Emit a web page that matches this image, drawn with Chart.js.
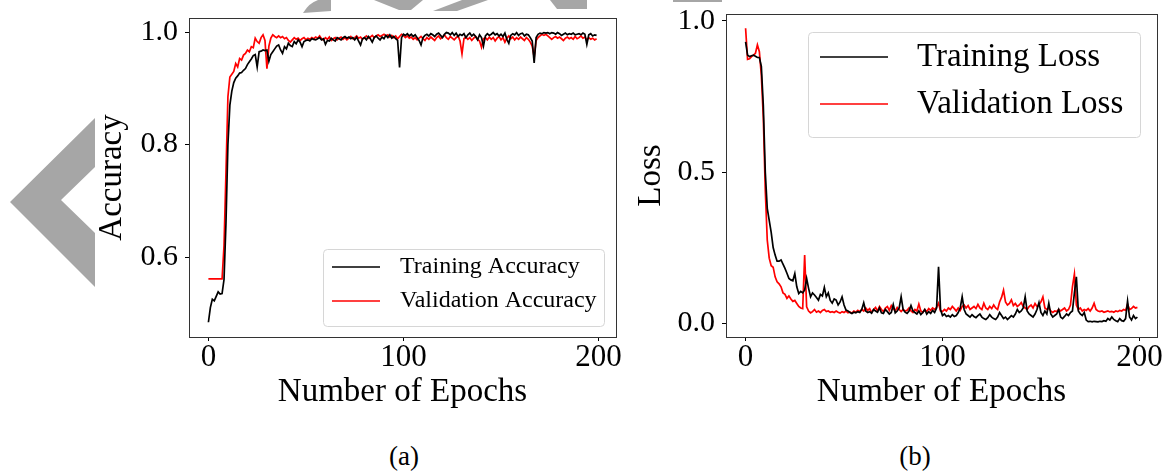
<!DOCTYPE html>
<html>
<head>
<meta charset="utf-8">
<script src="https://cdn.jsdelivr.net/npm/chart.js@4.4.1/dist/chart.umd.min.js"></script>
<style>
  html, body { margin: 0; padding: 0; background: #fff; }
  #page { position: relative; width: 1171px; height: 475px; overflow: hidden; }
  #page canvas, #page svg { position: absolute; top: 0; }
  #accChart { left: 0; }
  #lossChart { left: 620px; }
  .cap { position: absolute; top: 443px; font: 27px/27px "Liberation Serif"; color: #000; transform: translateX(-50%); }
</style>
</head>
<body>
<div id="page">
  <!-- grey watermark pieces from the scanned page -->
  <svg width="1171" height="475" style="left:0">
    <g fill="#a6a6a6">
      <polygon points="95,118 10,202 95,287 95,233 61,200 95,167"/>
      <path d="M303,13 Q309,3 318,0 L331,0 L331,11 Z"/>
      <polygon points="374,0 423,0 411,10 399,10"/>
      <polygon points="433,11 457,11 488,0 462,0"/>
      <polygon points="550,0 587,0 587,9 557,9"/>
      <rect x="673" y="0" width="49" height="2"/>
    </g>
  </svg>
  <canvas id="accChart" width="630" height="420"></canvas>
  <canvas id="lossChart" width="551" height="420"></canvas>
  <div class="cap" style="left:404px">(a)</div>
  <div class="cap" style="left:915px">(b)</div>
</div>
<script>
const epochs = Array.from({ length: 200 }, (_, i) => i);
const xTicks = [0, 100, 200];
const accTicks = [0.6, 0.8, 1.0];
const lossTicks = [0.0, 0.5, 1.0];

const trainAcc = [
  0.484, 0.51, 0.525, 0.522, 0.53, 0.538, 0.534, 0.535, 0.56, 0.66,
  0.80, 0.87, 0.895, 0.91, 0.918, 0.922, 0.927, 0.928, 0.932, 0.935,
  0.942, 0.947, 0.952, 0.958, 0.96, 0.938, 0.965, 0.966, 0.968, 0.967,
  0.968, 0.948, 0.96, 0.965, 0.97, 0.975, 0.977, 0.968, 0.962, 0.974,
  0.97, 0.98, 0.976, 0.974, 0.983, 0.979, 0.986, 0.982, 0.974, 0.983,
  0.985, 0.986, 0.984, 0.988, 0.987, 0.986, 0.988, 0.99, 0.986, 0.988,
  0.978, 0.985, 0.984, 0.989, 0.986, 0.984, 0.99, 0.988, 0.986, 0.99,
  0.992, 0.989, 0.991, 0.988, 0.99, 0.986, 0.991, 0.984, 0.977, 0.988,
  0.99, 0.986, 0.992, 0.988, 0.982, 0.99, 0.993, 0.989, 0.986, 0.991,
  0.988, 0.994, 0.99, 0.995, 0.989, 0.992, 0.988, 0.985, 0.937, 0.99,
  0.996, 0.994, 0.997, 0.993, 0.996, 0.992, 0.995, 0.99, 0.985, 0.977,
  0.99, 0.994, 0.996, 0.993, 0.997, 0.995, 0.992, 0.996, 0.998, 0.994,
  0.99, 0.996, 0.999, 0.998, 0.995, 0.999, 0.994, 0.998, 0.992, 0.996,
  0.994, 0.997, 0.99, 0.995, 0.998, 0.993, 0.996, 0.992, 0.986, 0.995,
  0.99, 0.975, 0.993, 0.997, 0.994, 0.996, 0.999, 0.995, 0.997, 0.993,
  0.996, 0.992, 0.998, 0.987, 0.98, 0.994, 0.997, 0.995, 0.999, 0.994,
  0.997, 0.998, 0.993, 0.996, 0.995, 0.99, 0.984, 0.945, 0.99, 0.996,
  0.998, 0.997, 0.999, 0.998, 0.999, 0.997, 0.999, 0.998, 0.996, 0.999,
  0.997, 0.994, 0.996, 0.998, 0.995, 0.997, 0.996, 0.998, 0.995, 0.996,
  0.997, 0.995, 0.998, 0.996, 0.978, 0.995, 0.997, 0.993, 0.995, 0.994
];

const valAcc = [
  0.561, 0.561, 0.561, 0.561, 0.561, 0.561, 0.561, 0.561, 0.62, 0.75,
  0.885, 0.92, 0.925, 0.93, 0.944, 0.938, 0.953, 0.95, 0.959, 0.962,
  0.968, 0.965, 0.974, 0.972, 0.989, 0.983, 0.98, 0.99, 0.995, 0.985,
  0.935, 0.975, 0.989, 0.995, 0.992, 0.99, 0.993, 0.99, 0.992, 0.988,
  0.99, 0.985, 0.982, 0.986, 0.99, 0.987, 0.989, 0.985, 0.988, 0.99,
  0.986, 0.989, 0.987, 0.99, 0.988, 0.991, 0.989, 0.993, 0.988, 0.986,
  0.99, 0.987, 0.991, 0.985, 0.988, 0.99, 0.986, 0.989, 0.991, 0.987,
  0.99, 0.986, 0.989, 0.992, 0.988, 0.99, 0.993, 0.989, 0.991, 0.987,
  0.99, 0.993, 0.989, 0.991, 0.994, 0.99, 0.993, 0.995, 0.992, 0.994,
  0.996, 0.993, 0.995, 0.991, 0.994, 0.99, 0.993, 0.988, 0.992, 0.996,
  0.994, 0.99, 0.993, 0.989, 0.991, 0.987, 0.99, 0.986, 0.989, 0.992,
  0.988, 0.985, 0.99, 0.987, 0.991, 0.988, 0.985, 0.99, 0.993, 0.988,
  0.991, 0.995, 0.99, 0.987, 0.992, 0.989, 0.986, 0.99, 0.993, 0.984,
  0.961, 0.988, 0.991, 0.987, 0.99, 0.985, 0.989, 0.992, 0.987, 0.984,
  0.973, 0.988, 0.99, 0.986, 0.991, 0.987, 0.99, 0.984, 0.989, 0.992,
  0.986, 0.99, 0.982, 0.989, 0.993, 0.988, 0.991, 0.986, 0.99, 0.987,
  0.991, 0.988, 0.985, 0.99, 0.987, 0.982, 0.975, 0.955, 0.985, 0.99,
  0.993, 0.996, 0.994, 0.996, 0.993, 0.99, 0.987, 0.99, 0.992, 0.989,
  0.991, 0.988, 0.985, 0.989, 0.991, 0.988, 0.99, 0.987, 0.992, 0.988,
  0.99, 0.993, 0.989, 0.991, 0.986, 0.99, 0.987, 0.989, 0.986, 0.988
];

const trainLoss = [
  0.931, 0.887, 0.882, 0.885, 0.887, 0.883, 0.879, 0.879, 0.85, 0.72,
  0.50, 0.38, 0.34, 0.30, 0.25, 0.225, 0.205, 0.205, 0.209, 0.195,
  0.181, 0.165, 0.148, 0.143, 0.14, 0.164, 0.12, 0.098, 0.105, 0.1,
  0.11, 0.148, 0.115, 0.087, 0.1, 0.093, 0.085, 0.076, 0.095, 0.09,
  0.118, 0.087, 0.1, 0.075, 0.066, 0.08, 0.076, 0.06, 0.07, 0.087,
  0.06, 0.043, 0.04, 0.035, 0.032, 0.036, 0.034, 0.038, 0.035, 0.045,
  0.067, 0.04, 0.035, 0.038, 0.033, 0.045, 0.04, 0.036, 0.05, 0.034,
  0.032, 0.045, 0.038, 0.03, 0.035, 0.061, 0.034, 0.04, 0.05, 0.087,
  0.045, 0.036, 0.032, 0.04, 0.058, 0.04, 0.035, 0.03, 0.04, 0.028,
  0.035, 0.045, 0.03, 0.038, 0.032, 0.042, 0.035, 0.05, 0.186, 0.045,
  0.025, 0.03, 0.022, 0.025, 0.02, 0.028, 0.022, 0.025, 0.035, 0.05,
  0.087, 0.045, 0.03, 0.025, 0.02, 0.028, 0.022, 0.018, 0.025, 0.03,
  0.02, 0.015, 0.012, 0.018, 0.028, 0.02, 0.015, 0.012, 0.02, 0.035,
  0.025, 0.015, 0.02, 0.012, 0.018, 0.025, 0.02, 0.03, 0.045, 0.035,
  0.04, 0.05, 0.087, 0.04, 0.03, 0.025, 0.02, 0.03, 0.045, 0.068,
  0.035, 0.025, 0.04, 0.03, 0.066, 0.03, 0.02, 0.025, 0.03, 0.045,
  0.02, 0.015, 0.022, 0.03, 0.025, 0.035, 0.04, 0.1, 0.153, 0.04,
  0.03, 0.025, 0.035, 0.01, 0.005, 0.006, 0.004, 0.006, 0.005, 0.004,
  0.006, 0.005, 0.008, 0.006, 0.015, 0.01, 0.02, 0.012, 0.008, 0.005,
  0.015, 0.008, 0.006, 0.015, 0.073, 0.02, 0.01, 0.025, 0.015, 0.02
];

const valLoss = [
  0.976, 0.873, 0.875, 0.882, 0.887, 0.893, 0.921, 0.898, 0.82, 0.68,
  0.44, 0.275, 0.215, 0.19, 0.185, 0.153, 0.137, 0.13, 0.12, 0.1,
  0.095, 0.082, 0.09, 0.08, 0.072, 0.075, 0.065, 0.055, 0.05, 0.048,
  0.225, 0.054, 0.04, 0.034, 0.038, 0.045, 0.036, 0.04, 0.035, 0.042,
  0.045, 0.038, 0.04, 0.036, 0.038, 0.035, 0.04, 0.036, 0.033, 0.038,
  0.035, 0.04, 0.034, 0.037, 0.033, 0.04, 0.036, 0.042, 0.038, 0.045,
  0.04, 0.05, 0.042, 0.048, 0.035, 0.045, 0.052, 0.04, 0.055, 0.045,
  0.038, 0.05, 0.055, 0.042, 0.058, 0.048, 0.04, 0.052, 0.045, 0.038,
  0.045, 0.04, 0.042, 0.05, 0.04, 0.035, 0.045, 0.04, 0.063, 0.04,
  0.035, 0.045, 0.038, 0.048, 0.042, 0.05, 0.045, 0.052, 0.066, 0.04,
  0.038, 0.045, 0.04, 0.05, 0.045, 0.055, 0.048, 0.04, 0.05, 0.042,
  0.055, 0.06, 0.05, 0.058, 0.045, 0.05, 0.055, 0.048, 0.062, 0.05,
  0.045, 0.066, 0.05, 0.045, 0.055, 0.048, 0.06, 0.05, 0.045, 0.07,
  0.085, 0.109, 0.07, 0.06, 0.065, 0.077, 0.058, 0.065, 0.055, 0.06,
  0.068, 0.055, 0.05, 0.045, 0.055, 0.06, 0.05, 0.065, 0.055, 0.06,
  0.07, 0.087, 0.05, 0.045, 0.05, 0.04, 0.035, 0.04, 0.038, 0.045,
  0.04, 0.045, 0.05, 0.04, 0.045, 0.06, 0.12, 0.162, 0.06, 0.045,
  0.05, 0.04, 0.045, 0.042, 0.048, 0.04, 0.05, 0.066, 0.045, 0.04,
  0.038, 0.04, 0.036, 0.038, 0.04, 0.037, 0.039, 0.036, 0.04, 0.038,
  0.042, 0.04, 0.045, 0.042, 0.063, 0.045, 0.048, 0.055, 0.05, 0.052
];

const FONT = 'Liberation Serif';

// matplotlib style frame on all four sides
const frame = {
  id: 'frame',
  afterDraw(chart) {
    const { ctx, chartArea: a } = chart;
    ctx.save();
    ctx.strokeStyle = '#333';
    ctx.lineWidth = 1;
    ctx.strokeRect(Math.round(a.left) + 0.5, Math.round(a.top) + 0.5,
      Math.round(a.right - a.left), Math.round(a.bottom - a.top));
    ctx.restore();
  }
};

// legend box inside the axes
const boxLegend = {
  id: 'boxLegend',
  afterDraw(chart, args, o) {
    const ctx = chart.ctx;
    ctx.save();
    ctx.fillStyle = 'rgba(255,255,255,0.8)';
    ctx.strokeStyle = '#d6d6d6';
    ctx.lineWidth = 1;
    ctx.beginPath();
    ctx.roundRect(o.x + 0.5, o.y + 0.5, o.w, o.h, 4);
    ctx.fill();
    ctx.stroke();
    ctx.font = o.size + 'px "' + FONT + '"';
    ctx.textBaseline = 'middle';
    chart.data.datasets.forEach((ds, i) => {
      const y = o.rows[i];
      ctx.strokeStyle = ds.borderColor;
      ctx.lineWidth = ds.borderWidth;
      ctx.beginPath();
      ctx.moveTo(o.h0, y);
      ctx.lineTo(o.h1, y);
      ctx.stroke();
      ctx.fillStyle = '#000';
      ctx.fillText(ds.label, o.tx, y);
    });
    ctx.restore();
  }
};

function series(values) {
  return values.map((v, i) => ({ x: epochs[i], y: v }));
}

function makeChart(id, p) {
  return new Chart(document.getElementById(id), {
    type: 'line',
    data: {
      datasets: [
        { label: p.labels[0], data: series(p.train), borderColor: '#000000', borderWidth: 1.7 },
        { label: p.labels[1], data: series(p.val), borderColor: '#ff0000', borderWidth: 1.7 }
      ]
    },
    options: {
      responsive: false,
      animation: false,
      devicePixelRatio: 1,
      layout: { padding: { top: p.padTop, right: p.padRight, left: 0, bottom: 0 } },
      elements: { point: { radius: 0 }, line: { tension: 0 } },
      plugins: { legend: { display: false }, tooltip: { enabled: false }, boxLegend: p.legend },
      scales: {
        x: {
          type: 'linear', min: -9.95, max: 208.95,
          afterBuildTicks: s => { s.ticks = xTicks.map(v => ({ value: v })); },
          afterFit: s => { s.height = 83; s.paddingLeft = 0; s.paddingRight = 0; },
          ticks: { font: { family: FONT, size: 31, lineHeight: 1.1 }, color: '#000', padding: 0, maxRotation: 0,
                   callback: v => String(v) },
          grid: { drawOnChartArea: false, drawTicks: true, tickLength: 4, tickColor: '#000' },
          border: { display: true, color: '#333', width: 1 },
          title: { display: true, text: 'Number of Epochs', color: '#000',
                   font: { family: FONT, size: 33 }, padding: { top: 0, bottom: 8 } }
        },
        y: {
          type: 'linear', min: p.yMin, max: p.yMax,
          afterBuildTicks: s => { s.ticks = p.yTicks.map(v => ({ value: v })); },
          afterFit: s => { s.width = p.yWidth; s.paddingTop = 0; s.paddingBottom = 0; },
          ticks: { font: { family: FONT, size: 30 }, color: '#000', padding: 7,
                   callback: v => v.toFixed(1) },
          grid: { drawOnChartArea: false, drawTicks: true, tickLength: 4, tickColor: '#000' },
          border: { display: true, color: '#333', width: 1 },
          title: { display: true, text: p.yTitle, color: '#000',
                   font: { family: FONT, size: 33 }, padding: { top: p.titlePad, bottom: 0 } }
        }
      }
    },
    plugins: [frame, boxLegend]
  });
}

makeChart('accChart', {
  labels: ['Training Accuracy', 'Validation Accuracy'],
  train: trainAcc, val: valAcc,
  yTitle: 'Accuracy', yTicks: accTicks, yMin: 0.4578, yMax: 1.0249,
  yWidth: 189, titlePad: 93, padTop: 18, padRight: 14,
  legend: { x: 323, y: 249, w: 281, h: 77, size: 24, h0: 332, h1: 380, tx: 400, rows: [267, 301] }
});

makeChart('lossChart', {
  labels: ['Training Loss', 'Validation Loss'],
  train: trainLoss, val: valLoss,
  yTitle: 'Loss', yTicks: lossTicks, yMin: -0.046, yMax: 1.023,
  yWidth: 106, titlePad: 12, padTop: 14, padRight: 14,
  legend: { x: 188, y: 32, w: 332, h: 105, size: 33, h0: 200, h1: 268, tx: 297, rows: [57, 104] }
});
</script>
</body>
</html>
